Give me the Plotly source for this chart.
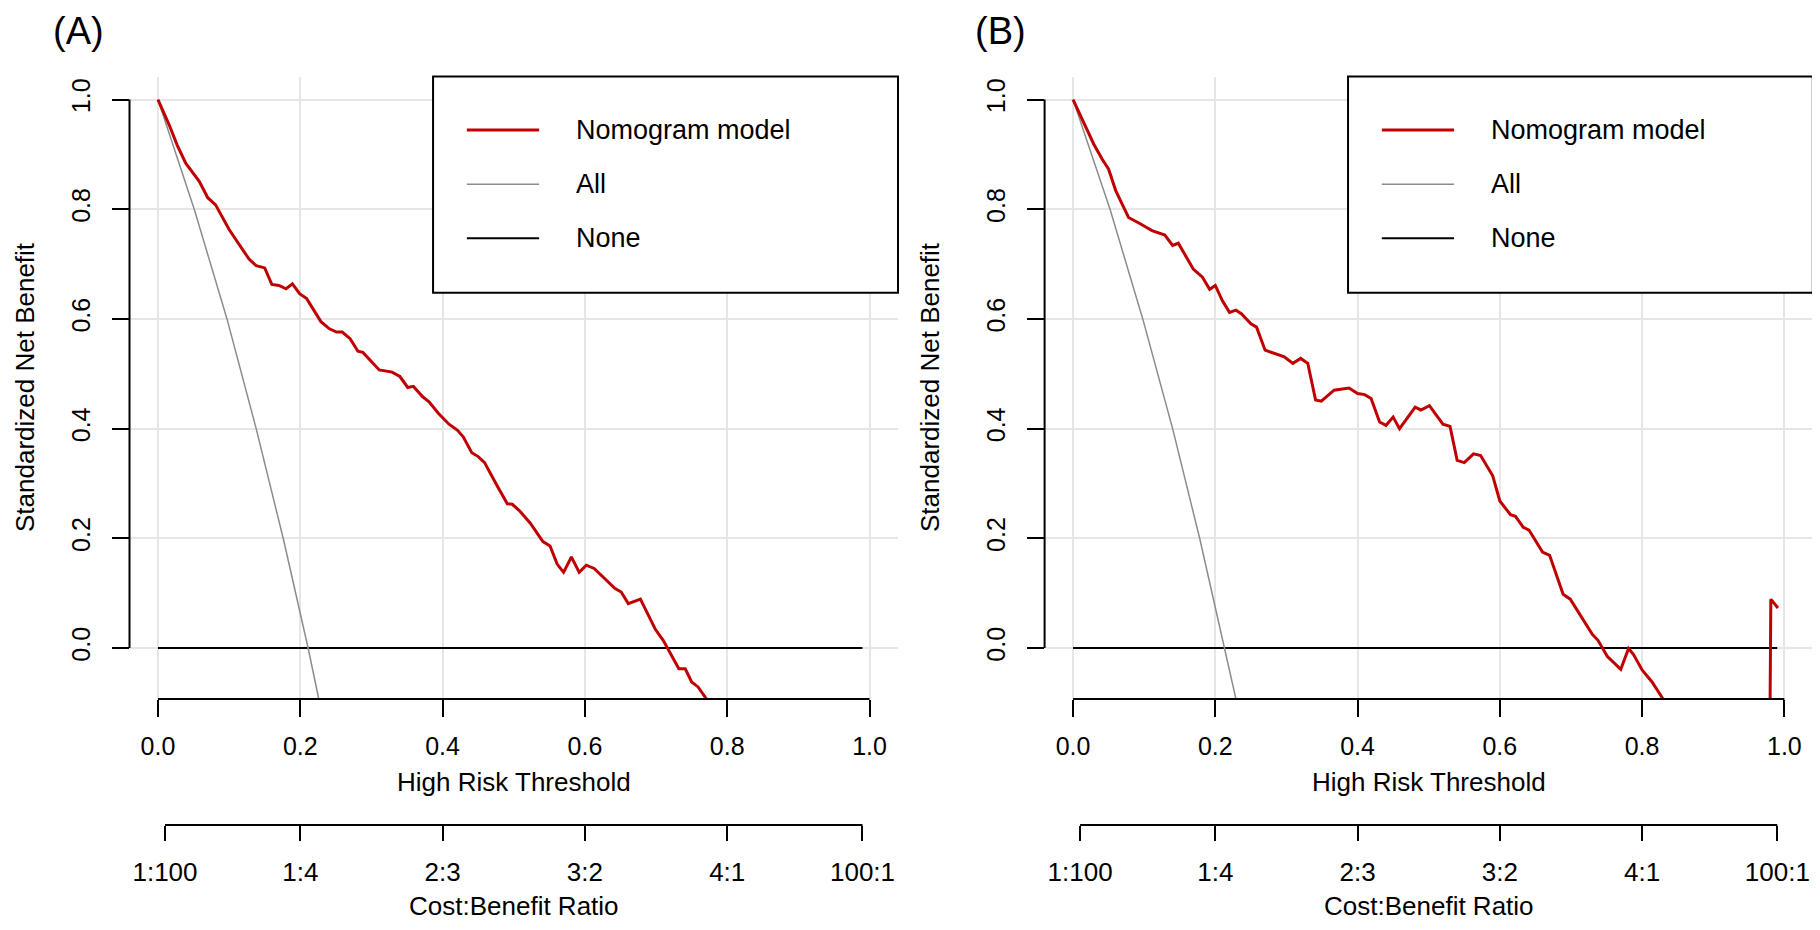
import plotly.graph_objects as go

# decision curves (threshold, standardized net benefit)
thr_a = [0.0, 0.016, 0.027, 0.039, 0.058, 0.070, 0.081, 0.100, 0.128, 0.138,
         0.150, 0.160, 0.170, 0.180, 0.189, 0.199, 0.209, 0.229, 0.241, 0.251,
         0.259, 0.270, 0.281, 0.288, 0.311, 0.329, 0.340, 0.351, 0.359, 0.372,
         0.381, 0.394, 0.409, 0.421, 0.429, 0.441, 0.450, 0.459, 0.477, 0.491,
         0.498, 0.509, 0.523, 0.541, 0.551, 0.561, 0.570, 0.581, 0.592, 0.602,
         0.613, 0.631, 0.642, 0.651, 0.661, 0.678, 0.699, 0.710, 0.721, 0.732,
         0.741, 0.750, 0.759, 0.770, 0.780]
nb_a = [1.000, 0.953, 0.917, 0.884, 0.851, 0.821, 0.808, 0.763, 0.709, 0.697,
        0.693, 0.663, 0.661, 0.655, 0.664, 0.646, 0.637, 0.595, 0.582, 0.576,
        0.576, 0.564, 0.541, 0.539, 0.507, 0.503, 0.495, 0.475, 0.477, 0.458,
        0.449, 0.428, 0.408, 0.397, 0.385, 0.356, 0.349, 0.338, 0.295, 0.263,
        0.262, 0.249, 0.228, 0.194, 0.186, 0.153, 0.138, 0.166, 0.138, 0.151,
        0.145, 0.123, 0.109, 0.102, 0.081, 0.089, 0.034, 0.014, -0.012, -0.038,
        -0.038, -0.062, -0.071, -0.092, -0.110]

thr_b = [0.0, 0.012, 0.029, 0.041, 0.050, 0.060, 0.078, 0.095, 0.111, 0.129,
         0.140, 0.148, 0.169, 0.182, 0.192, 0.200, 0.210, 0.220, 0.229, 0.237,
         0.250, 0.258, 0.270, 0.297, 0.309, 0.320, 0.330, 0.341, 0.349, 0.367,
         0.388, 0.400, 0.410, 0.419, 0.431, 0.440, 0.450, 0.459, 0.481, 0.489,
         0.501, 0.520, 0.530, 0.540, 0.550, 0.563, 0.573, 0.590, 0.600, 0.615,
         0.622, 0.633, 0.641, 0.660, 0.670, 0.689, 0.699, 0.730, 0.738, 0.751,
         0.770, 0.781, 0.788, 0.800, 0.814, 0.829, 0.850, 0.900, 0.950, 0.970,
         0.981, 0.991]
nb_b = [1.000, 0.967, 0.919, 0.891, 0.873, 0.834, 0.785, 0.773, 0.761, 0.753,
        0.734, 0.738, 0.691, 0.676, 0.654, 0.661, 0.633, 0.612, 0.616, 0.609,
        0.591, 0.585, 0.543, 0.531, 0.519, 0.528, 0.519, 0.452, 0.450, 0.470,
        0.474, 0.464, 0.462, 0.455, 0.412, 0.406, 0.421, 0.400, 0.439, 0.434,
        0.442, 0.408, 0.404, 0.342, 0.338, 0.354, 0.351, 0.314, 0.268, 0.243,
        0.240, 0.220, 0.215, 0.175, 0.169, 0.098, 0.089, 0.025, 0.014, -0.015,
        -0.039, -0.001, -0.012, -0.040, -0.062, -0.092, -0.140, -0.350, -0.800, -1.900,
        0.089, 0.073]

# "All" (treat everyone) reference curves
all_thr_a = [0.0, 0.026, 0.051, 0.097, 0.138, 0.176, 0.211, 0.226]
all_nb_a = [1.0, 0.9, 0.8, 0.6, 0.4, 0.2, 0.0, -0.093]
all_thr_b = [0.0, 0.026, 0.052, 0.098, 0.140, 0.178, 0.213, 0.229]
all_nb_b = [1.0, 0.9, 0.8, 0.6, 0.4, 0.2, 0.0, -0.093]

# "None" (treat no one)
none_thr = [0.0, 0.99]
none_nb = [0.0, 0.0]

x_ticks = [0.0, 0.2, 0.4, 0.6, 0.8, 1.0]
x_labels = ["0.0", "0.2", "0.4", "0.6", "0.8", "1.0"]
y_ticks = [0.0, 0.2, 0.4, 0.6, 0.8, 1.0]
y_labels = ["0.0", "0.2", "0.4", "0.6", "0.8", "1.0"]
cb_ticks = [1 / 101, 0.2, 0.4, 0.6, 0.8, 100 / 101]
cb_labels = ["1:100", "1:4", "2:3", "3:2", "4:1", "100:1"]

series_names = ["Nomogram model", "All", "None"]
panel_tags = ["(A)", "(B)"]

RED = "#c00000"
GRAY = "#8c8c8c"
GRID = "#e6e6e6"
FONT = "Liberation Sans, Arial, sans-serif"
styles = [dict(color=RED, width=3), dict(color=GRAY, width=1.5), dict(color="black", width=2)]

# page body has an 8px margin, so the figure is drawn 8px smaller and shifted
OFF = 8
W, H = 1820 - OFF, 930 - OFF


def px(v):
    return (v - OFF) / W


def py(v):
    return 1 - (v - OFF) / H


ydom = [py(699), py(76.5)]
xdoms = [[px(129.5), px(898)], [px(1044.6), px(1812.8)]]
cb_pos = py(825)

fig = go.Figure()

panels = [(thr_a, nb_a, all_thr_a, all_nb_a), (thr_b, nb_b, all_thr_b, all_nb_b)]
shapes, annotations = [], []

for i, (tx, ty, ax_, ay_) in enumerate(panels):
    xs = "x" if i == 0 else "x2"
    ys = "y" if i == 0 else "y2"
    xn = "xaxis" if i == 0 else "xaxis2"
    yn = "yaxis" if i == 0 else "yaxis2"
    cbx = "x3" if i == 0 else "x4"
    cbn = "xaxis3" if i == 0 else "xaxis4"

    fig.add_trace(go.Scatter(x=none_thr, y=none_nb, mode="lines", line=styles[2],
                             xaxis=xs, yaxis=ys, showlegend=False, hoverinfo="skip"))
    fig.add_trace(go.Scatter(x=ax_, y=ay_, mode="lines", line=styles[1],
                             xaxis=xs, yaxis=ys, showlegend=False, hoverinfo="skip"))
    fig.add_trace(go.Scatter(x=tx, y=ty, mode="lines", line=styles[0],
                             xaxis=xs, yaxis=ys, showlegend=False, hoverinfo="skip"))
    # invisible trace so the cost:benefit axis is drawn
    fig.add_trace(go.Scatter(x=cb_ticks, y=[0.5] * len(cb_ticks), mode="markers",
                             marker=dict(opacity=0), xaxis=cbx, yaxis=ys,
                             showlegend=False, hoverinfo="skip"))

    tick_font = dict(family=FONT, size=25, color="black")
    fig.update_layout(**{
        xn: dict(domain=xdoms[i], range=[-0.04, 1.04], anchor=ys,
                 tickvals=x_ticks, ticktext=x_labels, ticks="outside", ticklen=17,
                 tickwidth=2, tickcolor="black", showgrid=True, gridcolor=GRID,
                 gridwidth=2, zeroline=False, showline=False, tickfont=tick_font,
                 ticklabelstandoff=8),
        yn: dict(domain=ydom, range=[-0.093, 1.042], anchor=xs,
                 tickvals=y_ticks, ticktext=y_labels, ticks="outside", ticklen=17,
                 tickwidth=2, tickcolor="black", showgrid=True, gridcolor=GRID,
                 gridwidth=2, zeroline=False, showline=False, tickangle=-90,
                 tickfont=tick_font, ticklabelstandoff=12),
        cbn: dict(domain=xdoms[i], range=[-0.04, 1.04], anchor="free", overlaying=xs,
                  position=cb_pos, tickvals=cb_ticks, ticktext=cb_labels,
                  ticks="outside", ticklen=15, tickwidth=2, tickcolor="black",
                  showgrid=False, zeroline=False, showline=False,
                  tickfont=dict(family=FONT, size=26, color="black"),
                  ticklabelstandoff=9),
    })

    line = dict(color="black", width=2)
    # axis lines span first to last tick, as in base R
    shapes.append(dict(type="line", xref=xs, yref=f"{ys} domain", x0=0, x1=1, y0=0, y1=0, line=line))
    shapes.append(dict(type="line", xref=f"{xs} domain", yref=ys, x0=0, x1=0, y0=0, y1=1, line=line))
    shapes.append(dict(type="line", xref=xs, yref="paper", x0=cb_ticks[0], x1=cb_ticks[-1],
                       y0=cb_pos, y1=cb_pos, line=line))
    # legend box
    shapes.append(dict(type="rect", xref=f"{xs} domain", yref=f"{ys} domain",
                       x0=0.395, x1=1.0, y0=0.6527, y1=1.0, line=line, fillcolor="white"))
    for k, (name, st) in enumerate(zip(series_names, styles)):
        yy = [0.914, 0.827, 0.740][k]
        shapes.append(dict(type="line", xref=f"{xs} domain", yref=f"{ys} domain",
                           x0=0.439, x1=0.533, y0=yy, y1=yy, line=st))
        annotations.append(dict(text=name, xref=f"{xs} domain", yref=f"{ys} domain",
                                x=0.578, y=yy, xanchor="left", yanchor="middle",
                                showarrow=False, font=dict(family=FONT, size=27, color="black")))

    # axis titles
    annotations.append(dict(text="High Risk Threshold", xref=xs, yref="paper", x=0.5,
                            y=py(782), showarrow=False, xanchor="center", yanchor="middle",
                            font=dict(family=FONT, size=26, color="black")))
    annotations.append(dict(text="Cost:Benefit Ratio", xref=xs, yref="paper", x=0.5,
                            y=py(906), showarrow=False, xanchor="center", yanchor="middle",
                            font=dict(family=FONT, size=26, color="black")))
    title_x = [25, 930][i]
    annotations.append(dict(text="Standardized Net Benefit", xref="paper", yref="paper",
                            x=px(title_x), y=py(387), textangle=-90, showarrow=False,
                            xanchor="center", yanchor="middle",
                            font=dict(family=FONT, size=26, color="black")))
    tag_x = [78, 1000][i]
    annotations.append(dict(text=panel_tags[i], xref="paper", yref="paper",
                            x=px(tag_x), y=1.0, showarrow=False,
                            xanchor="center", yanchor="top",
                            font=dict(family=FONT, size=38, color="black")))

fig.update_layout(
    width=W, height=H,
    margin=dict(l=0, r=0, t=0, b=0),
    paper_bgcolor="white", plot_bgcolor="white",
    showlegend=False,
    shapes=shapes, annotations=annotations,
)

fig.write_html("out.html")
